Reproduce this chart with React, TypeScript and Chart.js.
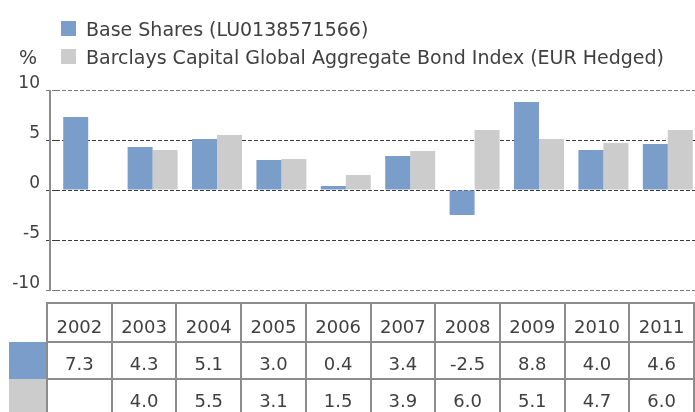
import React, { useEffect, useRef } from "react";
import { Chart, registerables } from "chart.js";

Chart.register(...registerables);

// ---- data ----
const years = ["2002", "2003", "2004", "2005", "2006", "2007", "2008", "2009", "2010", "2011"];
const baseShares: (number | null)[] = [7.3, 4.3, 5.1, 3.0, 0.4, 3.4, -2.5, 8.8, 4.0, 4.6];
const benchmark: (number | null)[] = [null, 4.0, 5.5, 3.1, 1.5, 3.9, 6.0, 5.1, 4.7, 6.0];
const seriesLabels = [
  "Base Shares (LU0138571566)",
  "Barclays Capital Global Aggregate Bond Index (EUR Hedged)",
];
const yTickValues = [-10, -5, 0, 5, 10];
const unitLabel = "%";

// ---- style ----
const BLUE = "#7a9ec9";
const GREY = "#cccccc";
const TEXT = "#404040";
const BORDER = "#8c8c8c";
const FONT_FAMILY = "'DejaVu Sans', sans-serif";

const decorPlugin = {
  id: "decor",
  afterDraw(chart: any) {
    const { ctx, chartArea } = chart;
    const ds = chart.data.datasets;
    ctx.save();

    // vertical axis line
    ctx.fillStyle = BORDER;
    ctx.fillRect(49, chartArea.top, 2, chartArea.bottom - chartArea.top + 1);

    // legend
    ctx.font = `19px ${FONT_FAMILY}`;
    ctx.textBaseline = "alphabetic";
    ctx.textAlign = "left";
    ds.forEach((d: any, i: number) => {
      const y = 21 + i * 28;
      ctx.fillStyle = d.backgroundColor;
      ctx.fillRect(61, y, 15, 15);
      ctx.fillStyle = TEXT;
      ctx.fillText(d.label, 86, y + 15);
    });
    ctx.fillText(unitLabel, 19, 64);

    // data table
    const labels: string[] = chart.data.labels;
    const n = labels.length;
    const left = 47;
    const right = 694;
    const colW = (right - left) / n;
    const rows = [303, 342, 379, 417];
    // swatches
    ds.forEach((d: any, i: number) => {
      ctx.fillStyle = d.backgroundColor;
      ctx.fillRect(9, rows[i + 1], left - 9, rows[i + 2] - rows[i + 1]);
    });
    // grid
    ctx.fillStyle = BORDER;
    for (let r = 0; r < rows.length; r++) {
      ctx.fillRect(left - 1, rows[r] - 1, right - left + 2, 2);
    }
    for (let c = 0; c <= n; c++) {
      const x = left + c * colW;
      ctx.fillRect(Math.round(x) - 1, rows[0] - 1, 2, rows[3] - rows[0] + 2);
    }
    // text
    ctx.fillStyle = TEXT;
    ctx.textAlign = "center";
    ctx.font = `18px ${FONT_FAMILY}`;
    const baselines = [333, 370, 407];
    for (let c = 0; c < n; c++) {
      const cx = left + (c + 0.5) * colW;
      ctx.fillText(labels[c], cx, baselines[0]);
      ds.forEach((d: any, i: number) => {
        const v = d.data[c];
        if (v !== null && v !== undefined) ctx.fillText(v.toFixed(1), cx, baselines[i + 1]);
      });
    }
    ctx.restore();
  },
};

export default function App() {
  const ref = useRef<HTMLCanvasElement>(null);
  useEffect(() => {
    const chart = new Chart(ref.current as HTMLCanvasElement, {
      type: "bar",
      data: {
        labels: years,
        datasets: [
          { label: seriesLabels[0], data: baseShares, backgroundColor: BLUE },
          { label: seriesLabels[1], data: benchmark, backgroundColor: GREY },
        ],
      },
      options: {
        responsive: false,
        animation: false,
        devicePixelRatio: 1,
        layout: { padding: { top: 90, bottom: 122, left: 0, right: 0 } },
        datasets: {
          bar: { categoryPercentage: 0.776, barPercentage: 1.0 },
        },
        plugins: { legend: { display: false }, tooltip: { enabled: false } },
        scales: {
          x: { display: false },
          y: {
            min: -10,
            max: 10,
            afterFit: (scale: any) => {
              scale.width = 56;
            },
            afterBuildTicks: (scale: any) => {
              scale.ticks = yTickValues.map((v) => ({ value: v }));
            },
            border: { display: false, dash: [4, 2] },
            grid: {
              color: (c: any) => (c.tick && Math.abs(c.tick.value) === 10 ? "#7a7a7a" : "#3c3c3c"),
              tickLength: 10,
              tickBorderDash: [4, 2],
            },
            ticks: {
              padding: 6,
              labelOffset: -6,
              color: TEXT,
              font: { family: FONT_FAMILY, size: 17 },
            },
          },
        },
      },
      plugins: [decorPlugin],
    });
    return () => chart.destroy();
  }, []);
  return (
    <div style={{ position: "fixed", left: 0, top: 0, width: 695, height: 412, overflow: "hidden", background: "#fff" }}>
      <canvas ref={ref} width={700} height={412} style={{ display: "block", width: 700, height: 412 }} />
    </div>
  );
}
